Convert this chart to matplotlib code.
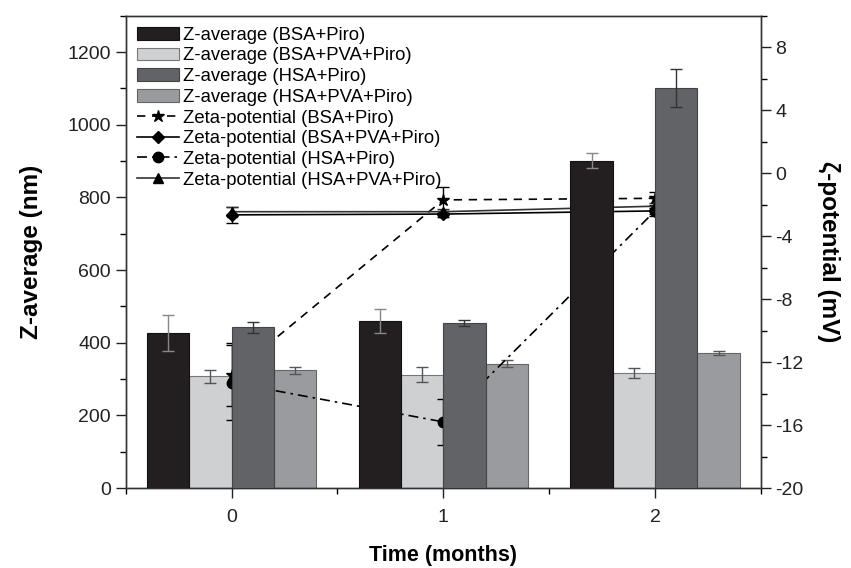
import numpy as np
import matplotlib
matplotlib.use('Agg')
import matplotlib.pyplot as plt
from matplotlib.ticker import MultipleLocator

plt.rcParams['font.family'] = ['Liberation Sans', 'DejaVu Sans']
plt.rcParams['axes.unicode_minus'] = False

# Data
months = [0, 1, 2]
tick_labels = ['0', '1', '2']

z_bsa = [427, 460, 901]
z_bsa_err = [50, 32, 20]
z_bsa_pva = [307, 312, 316]
z_bsa_pva_err = [18, 21, 13]
z_hsa = [442, 454, 1100]
z_hsa_err = [16, 8, 52]
z_hsa_pva = [324, 342, 372]
z_hsa_pva_err = [10, 9, 5]

zeta_bsa = [-12.8, -1.7, -1.6]
zeta_bsa_err = [2.0, 0.85, 0.4]
zeta_bsa_pva = [-2.65, -2.6, -2.4]
zeta_bsa_pva_err = [0.5, 0.2, 0.2]
zeta_hsa = [-13.3, -15.8, -2.4]
zeta_hsa_err = [2.4, 1.45, 0.3]
zeta_hsa_pva = [-2.45, -2.45, -2.1]
zeta_hsa_pva_err = [0.3, 0.2, 0.2]

x = np.array(months, dtype=float)
w = 0.2

fig = plt.figure(figsize=(8.51, 5.68), dpi=100)
ax = fig.add_axes([0.1476, 0.1408, 0.7466, 0.8316])
ax2 = ax.twinx()   # zeta potential
ax3 = ax.twinx()   # dark bars drawn over the zeta lines

ebk = dict(ecolor='#555555', elinewidth=1.0, capsize=4, capthick=1.0)

# light bars (behind lines)
b2 = ax.bar(x - 0.1, z_bsa_pva, w, yerr=z_bsa_pva_err, color='#cfd0d2',
            edgecolor='#777777', linewidth=0.8, error_kw=ebk,
            label='Z-average (BSA+PVA+Piro)')
b4 = ax.bar(x + 0.3, z_hsa_pva, w, yerr=z_hsa_pva_err, color='#9a9b9e',
            edgecolor='#666666', linewidth=0.8, error_kw=ebk,
            label='Z-average (HSA+PVA+Piro)')

# zeta lines
ekz = dict(capsize=4, elinewidth=1.0, capthick=1.0)
l1 = ax2.errorbar(x, zeta_bsa, yerr=zeta_bsa_err, color='black', ls=(0, (5, 4)),
                  lw=1.2, marker='*', ms=9, label='Zeta-potential (BSA+Piro)', **ekz)
l2 = ax2.errorbar(x, zeta_bsa_pva, yerr=zeta_bsa_pva_err, color='black', ls='-',
                  lw=1.2, marker='D', ms=6.5, label='Zeta-potential (BSA+PVA+Piro)', **ekz)
l3 = ax2.errorbar(x, zeta_hsa, yerr=zeta_hsa_err, color='black', ls=(0, (6, 3, 1.5, 3)),
                  lw=1.2, marker='o', ms=7.5, label='Zeta-potential (HSA+Piro)', **ekz)
l4 = ax2.errorbar(x, zeta_hsa_pva, yerr=zeta_hsa_pva_err, color='#333333', ls='-',
                  lw=1.2, marker='^', ms=7, mfc='black', mec='black',
                  label='Zeta-potential (HSA+PVA+Piro)', **ekz)

# dark bars (over lines)
b1 = ax3.bar(x - 0.3, z_bsa, w, yerr=z_bsa_err, color='#231f20',
             edgecolor='#111111', linewidth=0.8, error_kw=dict(ebk, ecolor='#888888'),
             label='Z-average (BSA+Piro)')
b3 = ax3.bar(x + 0.1, z_hsa, w, yerr=z_hsa_err, color='#626366',
             edgecolor='#444444', linewidth=0.8, error_kw=dict(ebk, ecolor='#333333'),
             label='Z-average (HSA+Piro)')

for a in (ax, ax3):
    a.set_ylim(0, 1300)
    a.set_xlim(-0.5, 2.5)
ax2.set_ylim(-20, 10)

ax3.axis('off')
ax3.patch.set_visible(False)

# axes styling
ax.set_xticks(months)
ax.set_xticklabels(tick_labels)
ax.xaxis.set_minor_locator(MultipleLocator(0.5))
ax.yaxis.set_major_locator(MultipleLocator(200))
ax.yaxis.set_minor_locator(MultipleLocator(100))
ax2.yaxis.set_minor_locator(MultipleLocator(2))
ax2.set_yticks(np.arange(-20, 9, 4))

for a in (ax, ax2):
    a.tick_params(which='major', direction='out', length=7, width=1.0,
                  labelsize=14, colors='#222222')
    a.tick_params(which='minor', direction='out', length=4, width=1.0)
    for s in a.spines.values():
        s.set_linewidth(1.0)
        s.set_color('#333333')
ax.tick_params(axis='x', pad=8)
ax.tick_params(top=False, which='both')

ax.set_xlabel('Time (months)', fontsize=15.5, fontweight='bold', labelpad=14)
ax.set_ylabel('Z-average (nm)', fontsize=17.5, fontweight='bold', labelpad=18)
ax2.set_ylabel('ζ-potential (mV)', fontsize=17.5, fontweight='bold',
               rotation=270, labelpad=26)

# legend handles without the error bars
handles = [b1, b2, b3, b4, l1[0], l2[0], l3[0], l4[0]]
labels = ['Z-average (BSA+Piro)', 'Z-average (BSA+PVA+Piro)',
          'Z-average (HSA+Piro)', 'Z-average (HSA+PVA+Piro)',
          'Zeta-potential (BSA+Piro)', 'Zeta-potential (BSA+PVA+Piro)',
          'Zeta-potential (HSA+Piro)', 'Zeta-potential (HSA+PVA+Piro)']
ax3.legend(handles, labels, loc='upper left', frameon=False, fontsize=13.3,
           handlelength=2.3, handletextpad=0.2, labelspacing=0.2,
           borderaxespad=0.2, bbox_to_anchor=(0.0, 1.0))

fig.savefig('out.png', dpi=100)
